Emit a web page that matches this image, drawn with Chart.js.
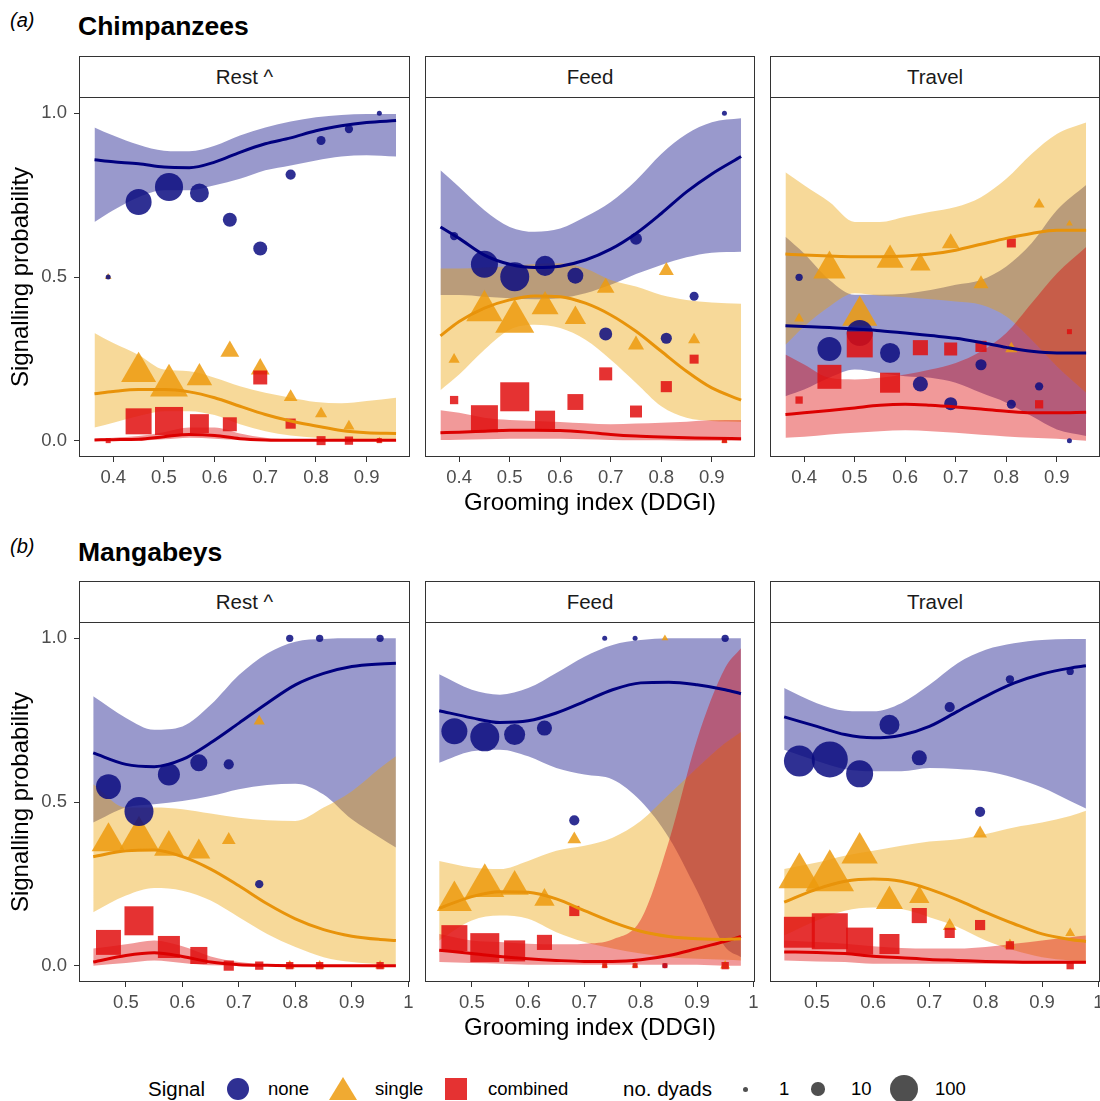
<!DOCTYPE html>
<html>
<head>
<meta charset="utf-8">
<script src="https://cdn.jsdelivr.net/npm/chart.js@4.4.1/dist/chart.umd.min.js"></script>
<style>
  html, body { margin: 0; padding: 0; background: #fff; overflow: hidden; }
  #page { position: relative; width: 1100px; height: 1101px; font-family: "Liberation Sans", Arial, sans-serif; color: #000; }
  canvas { position: absolute; }
  .txt { position: absolute; white-space: nowrap; }
  .strip { position: absolute; box-sizing: border-box; border: 1px solid #333; background: #fff;
           font-size: 20.5px; color: #1a1a1a; display: flex; align-items: center; justify-content: center; }
  .shape { position: absolute; }
</style>
</head>
<body>
<div id="page"></div>
<script>
// grooming index bins of the dyad groups
const chimpBins = [0.39, 0.45, 0.51, 0.57, 0.63, 0.69, 0.75, 0.81, 0.865, 0.925];
const mangBins = [0.469, 0.523, 0.576, 0.629, 0.682, 0.736, 0.79, 0.843, 0.95];
// x positions where the fitted curves were read
const chimpFitX = [0.363, 0.4, 0.45, 0.5, 0.55, 0.6, 0.65, 0.7, 0.75, 0.8, 0.85, 0.9, 0.958];
const mangFitX = [0.442, 0.5, 0.55, 0.6, 0.65, 0.7, 0.75, 0.8, 0.85, 0.9, 0.95, 0.978];

const chimpTicks = [0.4, 0.5, 0.6, 0.7, 0.8, 0.9];
const chimpTickLabels = ["0.4", "0.5", "0.6", "0.7", "0.8", "0.9"];
const mangTicks = [0.5, 0.6, 0.7, 0.8, 0.9, 1.0];
const mangTickLabels = ["0.5", "0.6", "0.7", "0.8", "0.9", "1"];
const yTicks = [0, 0.5, 1];
const yTickLabels = ["0.0", "0.5", "1.0"];
const contexts = ["Rest ^", "Feed", "Travel"];

// ---- Chimpanzees: Rest
const chimpRestDyads = [1, 83, 100, 37, 16, 16, 6, 4, 3, 1];
const chimpRestNone = [0.5, 0.729, 0.775, 0.757, 0.675, 0.587, 0.813, 0.917, 0.952, 1.0];
const chimpRestSingle = [0.5, 0.21, 0.168, 0.192, 0.273, 0.219, 0.133, 0.082, 0.044, 0];
const chimpRestCombined = [0, 0.059, 0.06, 0.052, 0.05, 0.193, 0.052, 0, 0, 0];
const chimpRestNoneFit = [0.858, 0.852, 0.846, 0.836, 0.834, 0.851, 0.881, 0.907, 0.925, 0.947, 0.962, 0.972, 0.978];
const chimpRestNoneLow = [0.668, 0.704, 0.744, 0.765, 0.765, 0.78, 0.8, 0.826, 0.841, 0.856, 0.868, 0.872, 0.868];
const chimpRestNoneHigh = [0.957, 0.932, 0.904, 0.886, 0.884, 0.901, 0.932, 0.957, 0.975, 0.988, 0.995, 0.998, 0.998];
const chimpRestSingleFit = [0.143, 0.15, 0.156, 0.156, 0.149, 0.131, 0.105, 0.08, 0.06, 0.045, 0.031, 0.024, 0.022];
const chimpRestSingleLow = [0.04, 0.055, 0.075, 0.09, 0.09, 0.078, 0.05, 0.029, 0.016, 0.009, 0.004, 0.002, 0.002];
const chimpRestSingleHigh = [0.329, 0.298, 0.262, 0.217, 0.212, 0.192, 0.166, 0.146, 0.131, 0.118, 0.114, 0.121, 0.131];
const chimpRestCombinedFit = [0.002, 0.003, 0.004, 0.012, 0.019, 0.016, 0.006, 0.002, 0.001, 0.001, 0.001, 0.001, 0.001];
const chimpRestCombinedLow = [0, 0, 0, 0.004, 0.009, 0.006, 0.002, 0, 0, 0, 0, 0, 0];
const chimpRestCombinedHigh = [0.006, 0.009, 0.014, 0.026, 0.04, 0.04, 0.022, 0.009, 0.004, 0.003, 0.003, 0.003, 0.003];

// ---- Chimpanzees: Feed
const chimpFeedDyads = [3, 91, 108, 43, 23, 13, 10, 8, 4, 1];
const chimpFeedNone = [0.625, 0.539, 0.501, 0.534, 0.504, 0.326, 0.617, 0.313, 0.441, 1.0];
const chimpFeedSingle = [0.248, 0.397, 0.364, 0.41, 0.375, 0.467, 0.293, 0.519, 0.308, 0];
const chimpFeedCombined = [0.124, 0.067, 0.134, 0.061, 0.118, 0.204, 0.089, 0.165, 0.249, 0];
const chimpFeedNoneFit = [0.653, 0.618, 0.567, 0.539, 0.529, 0.533, 0.552, 0.585, 0.633, 0.694, 0.76, 0.815, 0.868];
const chimpFeedNoneLow = [0.445, 0.445, 0.44, 0.435, 0.432, 0.435, 0.45, 0.476, 0.509, 0.537, 0.56, 0.574, 0.577];
const chimpFeedNoneHigh = [0.826, 0.775, 0.704, 0.653, 0.638, 0.648, 0.684, 0.729, 0.795, 0.876, 0.937, 0.973, 0.985];
const chimpFeedSingleFit = [0.32, 0.364, 0.405, 0.43, 0.442, 0.44, 0.42, 0.384, 0.334, 0.273, 0.212, 0.161, 0.124];
const chimpFeedSingleLow = [0.154, 0.202, 0.278, 0.339, 0.354, 0.344, 0.308, 0.247, 0.176, 0.105, 0.07, 0.06, 0.057];
const chimpFeedSingleHigh = [0.526, 0.526, 0.529, 0.533, 0.54, 0.542, 0.526, 0.491, 0.471, 0.445, 0.43, 0.422, 0.418];
const chimpFeedCombinedFit = [0.024, 0.026, 0.029, 0.032, 0.032, 0.031, 0.026, 0.019, 0.014, 0.011, 0.009, 0.007, 0.006];
const chimpFeedCombinedLow = [0.002, 0.003, 0.004, 0.006, 0.006, 0.006, 0.004, 0.002, 0.001, 0.001, 0, 0, 0];
const chimpFeedCombinedHigh = [0.093, 0.085, 0.07, 0.063, 0.06, 0.057, 0.053, 0.05, 0.052, 0.055, 0.058, 0.062, 0.063];

// ---- Chimpanzees: Travel
const chimpTravelDyads = [2, 68, 83, 43, 20, 13, 8, 4, 3, 1];
const chimpTravelNone = [0.499, 0.28, 0.329, 0.268, 0.173, 0.113, 0.232, 0.111, 0.166, 0];
const chimpTravelSingle = [0.373, 0.524, 0.382, 0.552, 0.538, 0.603, 0.479, 0.281, 0.722, 0.663];
const chimpTravelCombined = [0.124, 0.195, 0.294, 0.177, 0.284, 0.28, 0.288, 0.604, 0.111, 0.333];
const chimpTravelNoneFit = [0.351, 0.349, 0.346, 0.341, 0.336, 0.329, 0.321, 0.313, 0.3, 0.285, 0.273, 0.268, 0.268];
const chimpTravelNoneLow = [0.136, 0.156, 0.192, 0.217, 0.207, 0.197, 0.192, 0.177, 0.146, 0.116, 0.075, 0.034, 0.014];
const chimpTravelNoneHigh = [0.623, 0.572, 0.491, 0.446, 0.446, 0.449, 0.46, 0.476, 0.491, 0.532, 0.603, 0.704, 0.781];
const chimpTravelSingleFit = [0.57, 0.567, 0.564, 0.562, 0.562, 0.564, 0.57, 0.582, 0.6, 0.618, 0.633, 0.643, 0.643];
const chimpTravelSingleLow = [0.293, 0.349, 0.41, 0.45, 0.443, 0.438, 0.432, 0.425, 0.415, 0.379, 0.308, 0.227, 0.146];
const chimpTravelSingleHigh = [0.82, 0.78, 0.729, 0.668, 0.668, 0.684, 0.699, 0.714, 0.744, 0.8, 0.876, 0.937, 0.972];
const chimpTravelCombinedFit = [0.08, 0.085, 0.092, 0.1, 0.108, 0.111, 0.108, 0.103, 0.097, 0.09, 0.085, 0.085, 0.087];
const chimpTravelCombinedLow = [0.009, 0.012, 0.019, 0.024, 0.029, 0.032, 0.029, 0.024, 0.018, 0.013, 0.009, 0.006, 0];
const chimpTravelCombinedHigh = [0.263, 0.233, 0.192, 0.187, 0.192, 0.202, 0.217, 0.237, 0.273, 0.329, 0.42, 0.511, 0.592];

// ---- Mangabeys: Rest
const mangRestDyads = [75, 108, 55, 28, 6, 3, 2, 2, 2];
const mangRestNone = [0.547, 0.471, 0.584, 0.62, 0.615, 0.249, 1.0, 1.0, 1.0];
const mangRestSingle = [0.379, 0.389, 0.362, 0.348, 0.384, 0.747, 0, 0, 0];
const mangRestCombined = [0.071, 0.137, 0.057, 0.031, 0, 0, 0, 0, 0];
const mangRestNoneFit = [0.65, 0.615, 0.608, 0.63, 0.681, 0.741, 0.802, 0.858, 0.893, 0.914, 0.922, 0.924];
const mangRestNoneLow = [0.437, 0.483, 0.493, 0.503, 0.518, 0.539, 0.552, 0.556, 0.523, 0.447, 0.391, 0.361];
const mangRestNoneHigh = [0.823, 0.757, 0.721, 0.731, 0.797, 0.888, 0.954, 0.99, 0.998, 1.0, 1.0, 1.0];
const mangRestSingleFit = [0.333, 0.351, 0.353, 0.333, 0.295, 0.244, 0.189, 0.143, 0.11, 0.09, 0.08, 0.077];
const mangRestSingleLow = [0.163, 0.214, 0.237, 0.229, 0.199, 0.148, 0.097, 0.057, 0.026, 0.011, 0.004, 0.001];
const mangRestSingleHigh = [0.554, 0.483, 0.483, 0.478, 0.465, 0.452, 0.444, 0.442, 0.483, 0.533, 0.604, 0.64];
const mangRestCombinedFit = [0.011, 0.031, 0.039, 0.028, 0.011, 0.003, 0.001, 0, 0, 0, 0, 0];
const mangRestCombinedLow = [0, 0.008, 0.016, 0.008, 0.001, 0, 0, 0, 0, 0, 0, 0];
const mangRestCombinedHigh = [0.052, 0.065, 0.077, 0.059, 0.028, 0.011, 0.004, 0.003, 0.002, 0.002, 0.002, 0.002];

// ---- Mangabeys: Feed
const mangFeedDyads = [83, 108, 49, 20, 6, 1, 1, 1, 2];
const mangFeedNone = [0.716, 0.699, 0.706, 0.726, 0.444, 1.0, 1.0, 0, 1.0];
const mangFeedSingle = [0.198, 0.244, 0.242, 0.201, 0.386, 0, 0, 1.0, 0];
const mangFeedCombined = [0.084, 0.055, 0.045, 0.071, 0.167, 0, 0, 0, 0];
const mangFeedNoneFit = [0.779, 0.757, 0.743, 0.748, 0.772, 0.807, 0.843, 0.864, 0.866, 0.858, 0.843, 0.831];
const mangFeedNoneLow = [0.62, 0.655, 0.66, 0.64, 0.604, 0.584, 0.569, 0.503, 0.391, 0.229, 0.057, 0.026];
const mangFeedNoneHigh = [0.89, 0.843, 0.828, 0.848, 0.894, 0.944, 0.98, 0.995, 1.0, 1.0, 1.0, 1.0];
const mangFeedSingleFit = [0.175, 0.211, 0.226, 0.224, 0.204, 0.168, 0.133, 0.105, 0.089, 0.082, 0.08, 0.082];
const mangFeedSingleLow = [0.077, 0.138, 0.153, 0.143, 0.102, 0.072, 0.052, 0.037, 0.026, 0.021, 0.018, 0.016];
const mangFeedSingleHigh = [0.32, 0.3, 0.295, 0.32, 0.351, 0.366, 0.391, 0.442, 0.523, 0.604, 0.68, 0.714];
const mangFeedCombinedFit = [0.047, 0.037, 0.028, 0.021, 0.016, 0.013, 0.013, 0.018, 0.031, 0.052, 0.074, 0.089];
const mangFeedCombinedLow = [0.011, 0.008, 0.006, 0.003, 0.003, 0.003, 0.003, 0.003, 0.003, 0.003, 0, 0];
const mangFeedCombinedHigh = [0.097, 0.077, 0.072, 0.067, 0.065, 0.067, 0.08, 0.14, 0.38, 0.69, 0.91, 0.97];

// ---- Mangabeys: Travel
const mangTravelDyads = [126, 180, 91, 43, 20, 6, 6, 3, 2];
const mangTravelNone = [0.625, 0.63, 0.586, 0.736, 0.635, 0.79, 0.47, 0.875, 0.899];
const mangTravelSingle = [0.273, 0.27, 0.344, 0.197, 0.209, 0.121, 0.404, 0.063, 0.099];
const mangTravelCombined = [0.102, 0.105, 0.075, 0.066, 0.153, 0.1, 0.124, 0.062, 0];
const mangTravelNoneFit = [0.76, 0.731, 0.706, 0.696, 0.704, 0.731, 0.777, 0.823, 0.863, 0.891, 0.909, 0.916];
const mangTravelNoneLow = [0.66, 0.625, 0.6, 0.594, 0.594, 0.604, 0.601, 0.594, 0.574, 0.544, 0.503, 0.48];
const mangTravelNoneHigh = [0.848, 0.802, 0.779, 0.777, 0.802, 0.858, 0.924, 0.965, 0.985, 0.995, 0.998, 0.998];
const mangTravelSingleFit = [0.194, 0.234, 0.258, 0.265, 0.258, 0.234, 0.201, 0.163, 0.128, 0.097, 0.08, 0.074];
const mangTravelSingleLow = [0.092, 0.138, 0.168, 0.178, 0.173, 0.148, 0.118, 0.077, 0.047, 0.026, 0.016, 0.011];
const mangTravelSingleHigh = [0.295, 0.315, 0.336, 0.351, 0.366, 0.379, 0.386, 0.402, 0.422, 0.437, 0.457, 0.473];
const mangTravelCombinedFit = [0.042, 0.04, 0.037, 0.029, 0.024, 0.019, 0.016, 0.013, 0.011, 0.01, 0.01, 0.01];
const mangTravelCombinedLow = [0.016, 0.013, 0.011, 0.006, 0.006, 0.006, 0.006, 0.006, 0.006, 0.006, 0.006, 0.006];
const mangTravelCombinedHigh = [0.077, 0.072, 0.067, 0.059, 0.054, 0.052, 0.052, 0.057, 0.067, 0.077, 0.087, 0.092];

// signal types: circle / triangle / square
const SERIES = [
  { shape: "circle",   point: "rgba(10,12,128,0.85)",  line: "#00007f", band: "rgba(0,0,128,0.4)",  k: 1 },
  { shape: "triangle", point: "rgba(237,155,14,0.85)", line: "#e8930a", band: "rgba(235,160,0,0.4)", k: 1.555 },
  { shape: "rect",     point: "rgba(224,14,14,0.85)",  line: "#dc0000", band: "rgba(220,0,0,0.4)",  k: 1.414 },
];

const panels = [
  { row: 0, col: 0, bins: chimpBins, fitX: chimpFitX, dyads: chimpRestDyads,
    points: [chimpRestNone, chimpRestSingle, chimpRestCombined],
    fits: [[chimpRestNoneLow, chimpRestNoneFit, chimpRestNoneHigh],
           [chimpRestSingleLow, chimpRestSingleFit, chimpRestSingleHigh],
           [chimpRestCombinedLow, chimpRestCombinedFit, chimpRestCombinedHigh]] },
  { row: 0, col: 1, bins: chimpBins, fitX: chimpFitX, dyads: chimpFeedDyads,
    points: [chimpFeedNone, chimpFeedSingle, chimpFeedCombined],
    fits: [[chimpFeedNoneLow, chimpFeedNoneFit, chimpFeedNoneHigh],
           [chimpFeedSingleLow, chimpFeedSingleFit, chimpFeedSingleHigh],
           [chimpFeedCombinedLow, chimpFeedCombinedFit, chimpFeedCombinedHigh]] },
  { row: 0, col: 2, bins: chimpBins, fitX: chimpFitX, dyads: chimpTravelDyads,
    points: [chimpTravelNone, chimpTravelSingle, chimpTravelCombined],
    fits: [[chimpTravelNoneLow, chimpTravelNoneFit, chimpTravelNoneHigh],
           [chimpTravelSingleLow, chimpTravelSingleFit, chimpTravelSingleHigh],
           [chimpTravelCombinedLow, chimpTravelCombinedFit, chimpTravelCombinedHigh]] },
  { row: 1, col: 0, bins: mangBins, fitX: mangFitX, dyads: mangRestDyads,
    points: [mangRestNone, mangRestSingle, mangRestCombined],
    fits: [[mangRestNoneLow, mangRestNoneFit, mangRestNoneHigh],
           [mangRestSingleLow, mangRestSingleFit, mangRestSingleHigh],
           [mangRestCombinedLow, mangRestCombinedFit, mangRestCombinedHigh]] },
  { row: 1, col: 1, bins: mangBins, fitX: mangFitX, dyads: mangFeedDyads,
    points: [mangFeedNone, mangFeedSingle, mangFeedCombined],
    fits: [[mangFeedNoneLow, mangFeedNoneFit, mangFeedNoneHigh],
           [mangFeedSingleLow, mangFeedSingleFit, mangFeedSingleHigh],
           [mangFeedCombinedLow, mangFeedCombinedFit, mangFeedCombinedHigh]] },
  { row: 1, col: 2, bins: mangBins, fitX: mangFitX, dyads: mangTravelDyads,
    points: [mangTravelNone, mangTravelSingle, mangTravelCombined],
    fits: [[mangTravelNoneLow, mangTravelNoneFit, mangTravelNoneHigh],
           [mangTravelSingleLow, mangTravelSingleFit, mangTravelSingleHigh],
           [mangTravelCombinedLow, mangTravelCombinedFit, mangTravelCombinedHigh]] },
];

// layout of the facet grid (pixels)
const ROW_TOP = [97, 622];
const PLOT_H = 360;
const AXIS_H = 63;
const COL_LEFT = [79, 425, 770];
const COL_RIGHT = [410, 755, 1100];
const X_RANGE = [[0.3324, 0.9855], [0.4168, 1.003]];
const FONT = '"Liberation Sans", Arial, sans-serif';

Chart.defaults.font.family = FONT;

const page = document.getElementById("page");

const xy = (xs, ys) => xs.map((x, i) => ({ x: x, y: ys[i] }));
const dyadRadius = (n) => 2.5 + 1.16 * Math.sqrt(n - 1);

// panel border like theme_bw
const panelBorder = {
  id: "panelBorder",
  afterDraw(chart) {
    const { ctx, chartArea: a } = chart;
    ctx.save();
    ctx.strokeStyle = "#333";
    ctx.lineWidth = 1;
    ctx.strokeRect(a.left + 0.5, a.top + 0.5, a.right - a.left - 1, a.bottom - a.top - 1);
    ctx.restore();
  },
};

const buildDatasets = (p) => {
  const ds = [];
  SERIES.forEach((s, i) => {
    const lowIndex = ds.length;
    const band = { type: "line", borderWidth: 0, pointRadius: 0, cubicInterpolationMode: "monotone", order: 30 - i * 10 };
    ds.push({ ...band, data: xy(p.fitX, p.fits[i][0]), fill: false });
    ds.push({ ...band, data: xy(p.fitX, p.fits[i][2]), fill: lowIndex, backgroundColor: s.band });
  });
  SERIES.forEach((s, i) => {
    ds.push({ type: "line", data: xy(p.fitX, p.fits[i][1]), borderColor: s.line, borderWidth: 3,
      pointRadius: 0, fill: false, cubicInterpolationMode: "monotone", order: 1 });
  });
  // triangles under circles under squares
  [1, 0, 2].forEach((i, k) => {
    const s = SERIES[i];
    ds.push({ type: "scatter", data: xy(p.bins, p.points[i]), pointStyle: s.shape,
      pointRadius: p.dyads.map((n) => dyadRadius(n) * s.k), backgroundColor: s.point,
      borderWidth: 0, order: 4 - k });
  });
  return ds;
};

panels.forEach((p) => {
  const padL = p.col === 0 ? 0 : 8;
  const padR = p.col === 2 ? 0 : 8;
  const canvasLeft = p.col === 0 ? 0 : COL_LEFT[p.col] - padL;
  const width = COL_RIGHT[p.col] + padR - canvasLeft;
  const top = ROW_TOP[p.row];
  const showY = p.col === 0;

  const canvas = document.createElement("canvas");
  canvas.width = width;
  canvas.height = PLOT_H + AXIS_H;
  canvas.style.left = canvasLeft + "px";
  canvas.style.top = top + "px";
  page.appendChild(canvas);

  const ticks = p.row === 0 ? chimpTicks : mangTicks;
  const tickLabels = p.row === 0 ? chimpTickLabels : mangTickLabels;

  new Chart(canvas.getContext("2d"), {
    type: "scatter",
    data: { datasets: buildDatasets(p) },
    plugins: [panelBorder],
    options: {
      responsive: false,
      animation: false,
      events: [],
      layout: { autoPadding: false, padding: { left: padL, right: padR, top: 0, bottom: 0 } },
      plugins: { legend: { display: false }, tooltip: { enabled: false } },
      scales: {
        x: {
          type: "linear",
          min: X_RANGE[p.row][0],
          max: X_RANGE[p.row][1],
          afterBuildTicks: (axis) => { axis.ticks = ticks.map((v) => ({ value: v })); },
          afterFit: (axis) => { axis.height = AXIS_H; axis.paddingLeft = 0; axis.paddingRight = 0; },
          ticks: { callback: (v, i) => tickLabels[i], autoSkip: false, maxRotation: 0,
            color: "#4d4d4d", font: { size: 18.5 }, padding: 4.5 },
          grid: { drawOnChartArea: false, drawTicks: true, tickLength: 5, tickColor: "#333", color: "#333" },
          border: { display: false },
          title: { display: p.col === 1, text: "Grooming index (DDGI)", color: "#000",
            font: { size: 24 }, padding: { top: 0, bottom: 2.5 } },
        },
        y: {
          type: "linear",
          display: showY,
          min: -0.05,
          max: 1.05,
          afterBuildTicks: (axis) => { axis.ticks = yTicks.map((v) => ({ value: v })); },
          afterFit: (axis) => {
            if (showY) axis.width = 79;
            axis.paddingTop = 0;
            axis.paddingBottom = 0;
          },
          ticks: { callback: (v, i) => yTickLabels[i], color: "#4d4d4d", font: { size: 18.5 }, padding: 7 },
          grid: { drawOnChartArea: false, drawTicks: true, tickLength: 5, tickColor: "#333", color: "#333" },
          border: { display: false },
          title: { display: true, text: "Signalling probability", color: "#000",
            font: { size: 24 }, padding: { top: 7, bottom: 0 } },
        },
      },
    },
  });

  const strip = document.createElement("div");
  strip.className = "strip";
  strip.textContent = contexts[p.col];
  strip.style.left = COL_LEFT[p.col] + "px";
  strip.style.top = (top - 41) + "px";
  strip.style.width = (COL_RIGHT[p.col] - COL_LEFT[p.col]) + "px";
  strip.style.height = "42px";
  page.appendChild(strip);
});

// plain text placed by left edge and vertical centre
const addText = (text, left, cy, size, extra) => {
  const el = document.createElement("div");
  el.className = "txt";
  el.textContent = text;
  el.style.left = left + "px";
  el.style.top = (cy - size * 0.6) + "px";
  el.style.fontSize = size + "px";
  el.style.lineHeight = (size * 1.2) + "px";
  Object.assign(el.style, extra || {});
  page.appendChild(el);
};

addText("(a)", 10, 20, 20, { fontStyle: "italic" });
addText("Chimpanzees", 78, 27, 26.5, { fontWeight: "bold" });
addText("(b)", 10, 546, 20, { fontStyle: "italic" });
addText("Mangabeys", 78, 553, 26.5, { fontWeight: "bold" });

// legend
const LEG_Y = 1089;
const addShape = (css) => {
  const el = document.createElement("div");
  el.className = "shape";
  Object.assign(el.style, css);
  page.appendChild(el);
};
const addDot = (cx, r, color) => addShape({ left: (cx - r) + "px", top: (LEG_Y - r) + "px",
  width: 2 * r + "px", height: 2 * r + "px", borderRadius: "50%", background: color });

addText("Signal", 148, LEG_Y, 20.5);
addDot(238, 11, SERIES[0].point);
addText("none", 268, LEG_Y, 18.5);
addShape({ left: "329px", top: "1077px", width: 0, height: 0, borderLeft: "14px solid transparent",
  borderRight: "14px solid transparent", borderBottom: "23px solid " + SERIES[1].point });
addText("single", 375, LEG_Y, 18.5);
addShape({ left: "445px", top: "1078px", width: "22px", height: "22px", background: SERIES[2].point });
addText("combined", 488, LEG_Y, 18.5);

addText("no. dyads", 623, LEG_Y, 20.5);
addDot(745, dyadRadius(1), "rgba(60,60,60,0.9)");
addText("1", 779, LEG_Y, 18.5);
addDot(818, 6.7, "rgba(60,60,60,0.9)");
addText("10", 851, LEG_Y, 18.5);
addDot(904, dyadRadius(100), "rgba(60,60,60,0.9)");
addText("100", 935, LEG_Y, 18.5);
</script>
</body>
</html>
